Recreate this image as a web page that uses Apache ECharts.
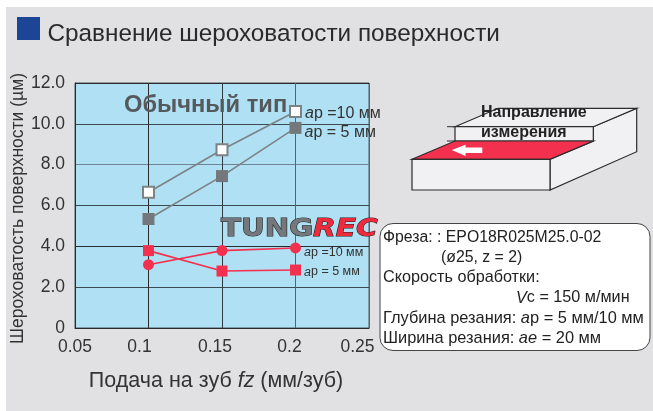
<!DOCTYPE html>
<html>
<head>
<meta charset="utf-8">
<style>
  html, body { margin: 0; padding: 0; background: #fff; }
  #chart { width: 653px; height: 411px; }
</style>
<script src="https://cdn.jsdelivr.net/npm/echarts@6/dist/echarts.min.js"></script>
</head>
<body>
<div id="chart"></div>
<script>
const feeds = [0.1, 0.15, 0.2]
const xTickLabels = ['0.05', '0.1', '0.15', '0.2', '0.25']
const yTickLabels = ['0', '2.0', '4.0', '6.0', '8.0', '10.0', '12.0']

const normal10 = [6.65, 8.73, 10.6]
const normal5 = [5.34, 7.44, 9.8]
const red10 = [3.1, 3.79, 3.92]
const red5 = [3.79, 2.79, 2.84]

const infoLines = [
  'Фреза: : EPO18R025M25.0-02',
  '(ø25, z = 2)',
  'Скорость обработки:',
  '{i|V}c = 150 м/мин',
  'Глубина резания: {i|a}p = 5 мм/10 мм',
  'Ширина резания: {i|ae} = 20 мм'
]

const FONT = '"Liberation Sans"'
const chart = echarts.init(document.getElementById('chart'))

function pairs(values) {
  return values.map((v, i) => [feeds[i], v])
}

function poly(points, fill, stroke) {
  return {
    type: 'polygon',
    shape: { points },
    style: { fill, stroke: stroke || '#2c2c2c', lineWidth: 1.2 }
  }
}

function line(x1, y1, x2, y2) {
  return {
    type: 'line',
    shape: { x1, y1, x2, y2 },
    style: { stroke: '#2c2c2c', lineWidth: 1 }
  }
}

function infoText(text, x, y, size) {
  return {
    type: 'text', z: 16, x, y,
    style: {
      rich: { i: { fontStyle: 'italic', fontFamily: FONT, fontSize: size, fill: '#222' } },
      text,
      fill: '#222',
      fontFamily: FONT,
      fontSize: size,
      verticalAlign: 'middle'
    }
  }
}

function seriesLabel(text, size, dy) {
  return {
    show: true,
    position: 'right',
    distance: 3,
    offset: [0, dy],
    color: '#333',
    fontFamily: FONT,
    fontSize: size,
    formatter: p => (p.dataIndex === feeds.length - 1 ? text : ''),
    rich: { i: { fontStyle: 'italic', fontFamily: FONT, fontSize: size, color: '#333' } }
  }
}

function lineSeries(name, values, color, symbol, size, itemStyle, label) {
  return {
    name,
    type: 'line',
    data: pairs(values),
    symbol,
    symbolSize: size,
    showSymbol: true,
    animation: false,
    lineStyle: { color, width: 1.6 },
    itemStyle,
    label,
    z: 5
  }
}

// shift x labels left of their ticks, as printed in the original
const xLabelPad = { 0: 0, 1: 18, 2: 14, 3: 12, 4: 23 }

chart.setOption({
  backgroundColor: '#fff',
  animation: false,
  title: {
    text: 'Сравнение шероховатости поверхности',
    left: 42.5,
    top: 17,
    textStyle: { fontFamily: FONT, fontSize: 24.3, fontWeight: 'normal', color: '#2a2a2a' }
  },
  grid: {
    left: 75,
    top: 83,
    width: 294,
    height: 245,
    show: true,
    backgroundColor: '#afe0f3',
    borderColor: '#4b5a63',
    borderWidth: 1
  },
  xAxis: {
    type: 'value',
    min: 0.05,
    max: 0.25,
    interval: 0.05,
    axisTick: { show: false },
    axisLine: { show: true, onZero: false, lineStyle: { color: '#2a2a2a', width: 1 } },
    splitLine: {
      show: true,
      lineStyle: { color: ['#2a2a2a', '#2a2a2a', '#2f3a40', '#51666f', '#51666f'], width: 1 }
    },
    axisLabel: {
      margin: 10,
      hideOverlap: false,
      showMinLabel: true,
      showMaxLabel: true,
      color: '#333',
      fontFamily: FONT,
      fontSize: 17.5,
      formatter: v => {
        const i = Math.round((v - 0.05) / 0.05)
        return '{p' + i + '|' + xTickLabels[i] + '}'
      },
      rich: Object.fromEntries(xTickLabels.map((t, i) => ['p' + i, {
        padding: [0, xLabelPad[i], 0, 0],
        fontFamily: FONT,
        fontSize: 17.5,
        color: '#333'
      }]))
    },
    name: 'Подача на зуб {i|fz} (мм/зуб)',
    nameLocation: 'middle',
    nameGap: 42,
    nameTextStyle: {
      color: '#333',
      fontFamily: FONT,
      fontSize: 21.5,
      padding: [0, 12, 0, 0],
      rich: { i: { fontStyle: 'italic', fontFamily: FONT, fontSize: 21.5, color: '#333' } }
    }
  },
  yAxis: {
    type: 'value',
    min: 0,
    max: 12,
    interval: 2,
    axisTick: { show: false },
    axisLine: { show: true, lineStyle: { color: '#2a2a2a', width: 1 } },
    splitLine: {
      show: true,
      lineStyle: { color: ['#2a2a2a', '#3c4a51', '#242c30', '#3c4a51', '#6f8590', '#3c4a51', '#2a2a2a'], width: 1 }
    },
    axisLabel: {
      margin: 10,
      padding: [0, 0, 8, 0],
      color: '#333',
      fontFamily: FONT,
      fontSize: 17.5,
      formatter: v => yTickLabels[Math.round(v / 2)]
    },
    name: 'Шероховатость поверхности (µм)',
    nameLocation: 'middle',
    nameGap: 44,
    nameTextStyle: {
      color: '#333',
      fontFamily: FONT,
      fontSize: 17.5,
      padding: [0, 6, 0, 0]
    }
  },
  series: [
    lineSeries('normal 10', normal10, '#7d8286', 'rect', 11,
      { color: '#fff', borderColor: '#7d8286', borderWidth: 2 },
      seriesLabel('{i|a}p =10 мм', 16, 2)),
    lineSeries('normal 5', normal5, '#7d8286', 'rect', 12,
      { color: '#74787c' },
      seriesLabel('{i|a}p = 5 мм', 16, 5)),
    lineSeries('red 10', red10, '#f4304f', 'circle', 11,
      { color: '#f4304f' },
      seriesLabel('{i|a}p =10 мм', 12.5, 5)),
    lineSeries('red 5', red5, '#f4304f', 'rect', 11,
      { color: '#f4304f' },
      seriesLabel('{i|a}p = 5 мм', 12.5, 2))
  ],
  graphic: [
    // panel background
    { type: 'rect', z: -10, silent: true, shape: { x: 6, y: 7, width: 647, height: 404 }, style: { fill: '#e1e1e3' } },
    { type: 'rect', z: 10, shape: { x: 17, y: 17, width: 23, height: 23 }, style: { fill: '#1c4595' } },
    {
      type: 'text', z: 10, x: 124, y: 105,
      style: { text: 'Обычный тип', fill: '#55595c', fontFamily: FONT, fontSize: 23.7, fontWeight: 'bold', verticalAlign: 'middle' }
    },
    // watermark
    {
      type: 'text', z: 20, x: 221, y: 230, scaleX: 1.22,
      style: { text: 'TUNG', fill: '#74787c', stroke: '#222', lineWidth: 1, fontFamily: '"DejaVu Sans"', fontSize: 24, fontWeight: 'bold', verticalAlign: 'middle' }
    },
    {
      type: 'text', z: 20, x: 313, y: 230, scaleX: 1.23,
      style: { text: 'REC', fill: '#ee2b3c', stroke: '#222', lineWidth: 1, fontFamily: '"DejaVu Sans"', fontSize: 24, fontWeight: 'bold', fontStyle: 'italic', verticalAlign: 'middle' }
    },
    // workpiece sketch
    { type: 'group', z: 10, children: [
      poly([[593.3, 126.7], [636.7, 108.3], [636.7, 151.7], [550, 190], [550, 159.3], [593.3, 141]], '#f1f0f2'),
      poly([[455, 126.7], [498.3, 108.3], [636.7, 108.3], [593.3, 126.7]], '#f1f0f2'),
      poly([[455, 126.7], [593.3, 126.7], [593.3, 141], [455, 141]], '#f1f0f2'),
      poly([[412, 159.3], [455, 141], [593.3, 141], [550, 159.3]], '#f4304f'),
      poly([[412, 159.3], [550, 159.3], [550, 190], [412, 190]], '#f1f0f2'),
      line(447, 126.7, 455, 126.7),
      line(447, 141, 455, 141),
      poly([[453.3, 150], [465, 145.5], [465, 148], [481.7, 148], [481.7, 152.5], [465, 152.5], [465, 155]], '#fff', '#fff'),
      {
        type: 'text', x: 481, y: 113,
        style: { text: 'Направление', fill: '#222', fontFamily: FONT, fontSize: 16, fontWeight: 'bold', verticalAlign: 'middle' }
      },
      {
        type: 'text', x: 481, y: 133,
        style: { text: 'измерения', fill: '#222', fontFamily: FONT, fontSize: 16, fontWeight: 'bold', verticalAlign: 'middle' }
      }
    ] },
    // cutting conditions box
    {
      type: 'rect', z: 15,
      shape: { x: 380, y: 223.5, width: 270, height: 127, r: 13 },
      style: { fill: '#fff', stroke: '#444', lineWidth: 1 }
    },
    infoText(infoLines[0], 383, 238, 15.8),
    infoText(infoLines[1], 441, 258, 15.8),
    infoText(infoLines[2], 383, 278, 16.2),
    infoText(infoLines[3], 516, 298, 16.2),
    infoText(infoLines[4], 383, 318, 16.4),
    infoText(infoLines[5], 383, 338, 16.4)
  ]
})
</script>
</body>
</html>
